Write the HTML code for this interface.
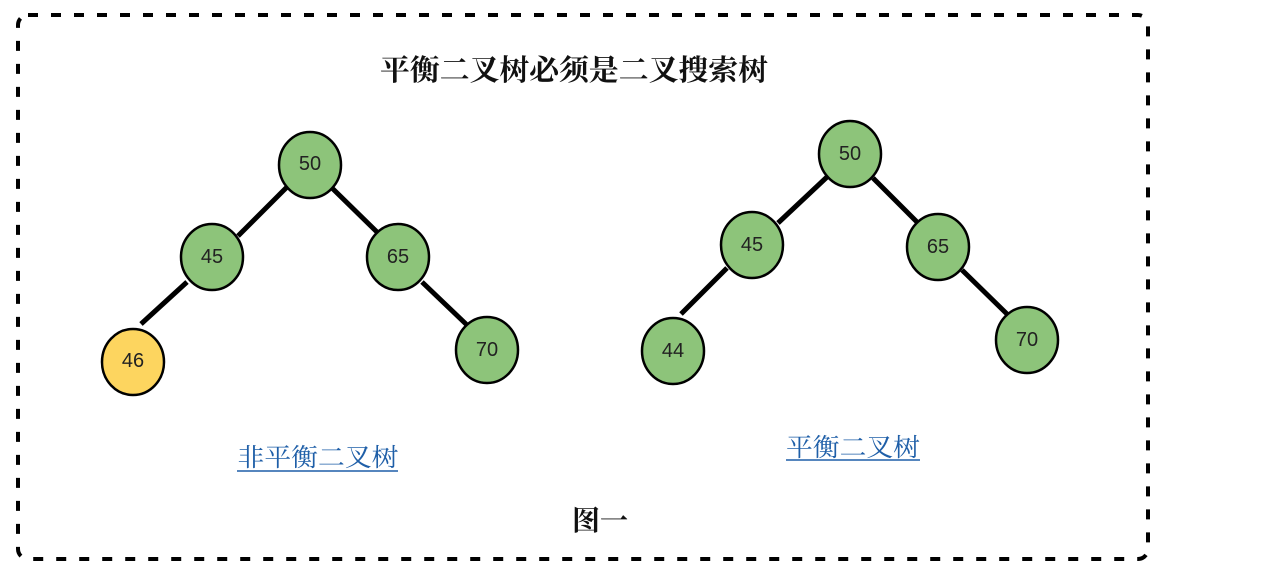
<!DOCTYPE html>
<html><head><meta charset="utf-8"><style>
html,body{margin:0;padding:0;background:#fff;width:1267px;height:573px;overflow:hidden}
svg{display:block}
.t{font-family:"Liberation Serif","Noto Serif CJK SC",serif;font-weight:bold;fill:#111}
.n{font-family:"Liberation Sans","DejaVu Sans",sans-serif;font-size:20px;fill:#222;text-anchor:middle;dominant-baseline:central}
.l{font-family:"Liberation Serif","Noto Serif CJK SC",serif;font-size:25px;fill:#1f5fa8;text-anchor:middle}
</style></head><body>
<svg width="1267" height="573" viewBox="0 0 1267 573" xmlns="http://www.w3.org/2000/svg">
<rect x="18" y="15" width="1130" height="544" rx="10" fill="none" stroke="#000" stroke-width="4" stroke-dasharray="10 13"/>
<text class="t" x="380" y="80" font-size="29" textLength="388" lengthAdjust="spacingAndGlyphs">平衡二叉树必须是二叉搜索树</text>
<g stroke="#000" stroke-width="5" stroke-linecap="butt">
<line x1="287" y1="187" x2="238" y2="236"/>
<line x1="332" y1="188" x2="378" y2="233"/>
<line x1="187" y1="282" x2="141" y2="324"/>
<line x1="422" y1="282" x2="467" y2="325"/>
<line x1="827" y1="177" x2="778" y2="223"/>
<line x1="873" y1="178" x2="917" y2="222"/>
<line x1="727" y1="268" x2="681" y2="314"/>
<line x1="962" y1="270" x2="1007" y2="314"/>
</g>
<g stroke="#000" stroke-width="2.5" fill="#8dc47a">
<ellipse cx="310" cy="165" rx="31" ry="33"/>
<ellipse cx="212" cy="257" rx="31" ry="33"/>
<ellipse cx="398" cy="257" rx="31" ry="33"/>
<ellipse cx="133" cy="362" rx="31" ry="33" fill="#fdd55f"/>
<ellipse cx="487" cy="350" rx="31" ry="33"/>
<ellipse cx="850" cy="154" rx="31" ry="33"/>
<ellipse cx="752" cy="245" rx="31" ry="33"/>
<ellipse cx="938" cy="247" rx="31" ry="33"/>
<ellipse cx="673" cy="351" rx="31" ry="33"/>
<ellipse cx="1027" cy="340" rx="31" ry="33"/>
</g>
<text class="n" x="310" y="164">50</text>
<text class="n" x="212" y="257">45</text>
<text class="n" x="398" y="257">65</text>
<text class="n" x="133" y="361">46</text>
<text class="n" x="487" y="350">70</text>
<text class="n" x="850" y="154">50</text>
<text class="n" x="752" y="245">45</text>
<text class="n" x="938" y="247">65</text>
<text class="n" x="673" y="351">44</text>
<text class="n" x="1027" y="340">70</text>
<text class="l" x="318" y="466" textLength="161" lengthAdjust="spacingAndGlyphs">非平衡二叉树</text>
<line x1="237" y1="471" x2="398" y2="471" stroke="#1f5fa8" stroke-width="1.5"/>
<text class="l" x="853" y="456" textLength="134" lengthAdjust="spacingAndGlyphs">平衡二叉树</text>
<line x1="786" y1="460" x2="920" y2="460" stroke="#1f5fa8" stroke-width="1.5"/>
<text class="t" x="600" y="530" font-size="28" text-anchor="middle">图一</text>
</svg>
</body></html>
